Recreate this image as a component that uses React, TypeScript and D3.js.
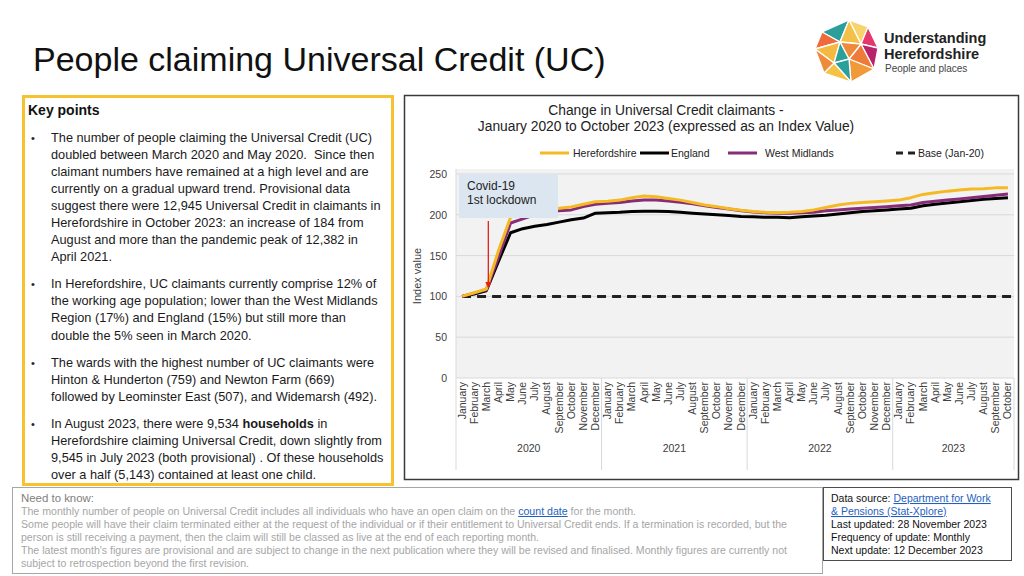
import React from 'react';
import * as d3 from 'd3';

// ---- data (index, Jan 2020 = 100) ----
const monthNames = [
  'January', 'February', 'March', 'April', 'May', 'June',
  'July', 'August', 'September', 'October', 'November', 'December',
];
const years = ['2020', '2021', '2022', '2023'];
const monthsInYear = [12, 12, 12, 10];

const herefordshire = [
  100, 104.5, 109, 156, 197, 203, 206, 207, 208, 209.5, 213, 216,
  216.5, 218, 221, 223, 222, 220, 218, 215, 212, 210, 207.5, 205.5,
  204, 203, 202.5, 203, 204, 206, 209, 212, 214, 215, 216, 217,
  218, 221, 225, 227, 229, 230.5, 231.5, 232, 233, 233,
];
const england = [
  100, 103, 107, 143, 178, 183, 186, 188, 191, 194, 196, 202,
  202.5, 203, 204, 204.5, 204.5, 204, 203, 202, 201, 200, 199, 198,
  197.5, 197, 197, 196.5, 197.5, 198.5, 199.5, 201, 202.5, 204, 205, 206,
  207, 208, 211, 213, 214.5, 216, 217.5, 219, 220, 221,
];
const westMidlands = [
  100, 104, 108, 148, 190, 195, 200, 203, 205, 206, 210, 213,
  214, 215, 217, 218, 218, 217, 215.5, 213.5, 211, 209, 207, 205,
  203.5, 202.5, 202, 202, 202.5, 203, 205, 206, 207, 208, 209, 210,
  211, 212, 215, 216.5, 218, 219.5, 221, 222.5, 224, 225.5,
];
const baseValue = 100;
const yTicks = [0, 50, 100, 150, 200, 250];

const seriesNames = ['Herefordshire', 'England', 'West Midlands', 'Base (Jan-20)'];
const seriesColors = ['#f5b923', '#000000', '#872d77', '#222222'];

const keyPoints = [
  [
    'The number of people claiming the Universal Credit (UC)',
    'doubled between March 2020 and May 2020.\u00a0 Since then',
    'claimant numbers have remained at a high level and are',
    'currently on a gradual upward trend. Provisional data',
    'suggest there were 12,945 Universal Credit in claimants in',
    'Herefordshire in October 2023: an increase of 184 from',
    'August and more than the pandemic peak of 12,382 in',
    'April 2021.',
  ],
  [
    'In Herefordshire, UC claimants currently comprise 12% of',
    'the working age population; lower than the West Midlands',
    'Region (17%) and England (15%) but still more than',
    'double the 5% seen in March 2020.',
  ],
  [
    'The wards with the highest number of UC claimants were',
    'Hinton & Hunderton (759) and Newton Farm (669)',
    'followed by Leominster East (507), and Widemarsh (492).',
  ],
  [
    'In August 2023, there were 9,534 **households** in',
    'Herefordshire claiming Universal Credit, down slightly from',
    '9,545 in July 2023 (both provisional) . Of these households',
    'over a half (5,143) contained at least one child.',
  ],
];

const FONT = "'Liberation Sans', Arial, Helvetica, sans-serif";

// layout
const plotLeft = 456;
const plotRight = 1014;
const plotTop = 174;
const plotBottom = 378;

const labels = years.flatMap((y, yi) => monthNames.slice(0, monthsInYear[yi]).map(m => `${m} ${y}`));

const x = d3.scaleBand<string>().domain(labels).range([plotLeft, plotRight]).paddingInner(0).paddingOuter(0);
const xc = (i: number) => (x(labels[i]) as number) + x.bandwidth() / 2;
const y = d3.scaleLinear().domain([0, 250]).range([plotBottom, plotTop]);

const renderBold = (s: string) => {
  const parts = s.split('**');
  return parts.map((p, i) => (
    <tspan key={i} fontWeight={i % 2 === 1 ? 'bold' : 'normal'}>{p}</tspan>
  ));
};

const Logo: React.FC = () => {
  const P: Record<string, [number, number]> = {
    A: [822, 32], B: [849, 20], C: [868, 27], D: [878, 48], E: [874, 69],
    F: [851, 82], G: [824, 73], H: [815, 49], I: [840, 42], J: [861, 44],
    K: [849, 59], L: [834, 63],
  };
  const tris: [string, string][] = [
    ['ABI', '#2a9f9c'], ['BCJ', '#f6d36b'], ['BJI', '#f3c04a'], ['CDJ', '#e6366c'],
    ['DEJ', '#b8246b'], ['JEK', '#ef7b3a'], ['IJK', '#ee8a3c'], ['AIH', '#ef6b3b'],
    ['HIL', '#f4b940'], ['IKL', '#2b9f98'], ['KEF', '#f09a3a'], ['KFL', '#2a9f9c'],
    ['LFG', '#f6c244'], ['HLG', '#f08a3b'],
  ];
  return (
    <g>
      {tris.map(([k, c], i) => (
        <polygon key={i} points={k.split('').map(p => P[p].join(',')).join(' ')} fill={c} stroke="#fff" strokeWidth={1.3} />
      ))}
      <text x={884} y={43} fontFamily={FONT} fontWeight="bold" fontSize={14.5} fill="#222">Understanding</text>
      <text x={884} y={59} fontFamily={FONT} fontWeight="bold" fontSize={14.5} fill="#222">Herefordshire</text>
      <text x={885} y={72} fontFamily={FONT} fontSize={10} fill="#444">People and places</text>
    </g>
  );
};

const App: React.FC = () => {
  const path = d3.line<number>().x((_, i) => xc(i)).y(d => y(d));
  const series = [herefordshire, england, westMidlands];
  const drawOrder = [1, 2, 0];

  const yearStarts = monthsInYear.reduce<number[]>((acc, n, i) => {
    acc.push(i === 0 ? 0 : acc[i - 1] + monthsInYear[i - 1]);
    return acc;
  }, []);

  const legendX = [540, 640, 728, 896];
  const legendTextX = [573, 671, 765, 918];

  let lineY = 141.5;
  const bulletLines: { text: string; y: number; first: boolean }[] = [];
  keyPoints.forEach(b => {
    b.forEach((t, ti) => {
      if (ti > 0) lineY += 17.1;
      bulletLines.push({ text: t, y: lineY, first: ti === 0 });
    });
    lineY += 27;
  });

  const footLines = [
    'Some people will have their claim terminated either at the request of the individual or if their entitlement to Universal Credit ends. If a termination is recorded, but the',
    'person is still receiving a payment, then the claim will still be classed as live at the end of each reporting month.',
    "The latest month's figures are provisional and are subject to change in the next publication where they will be revised and finalised. Monthly figures are currently not",
    'subject to retrospection beyond the first revision.',
  ];
  const footWidths = [766, 518, 766, 228];

  const arrowX = xc(2) + 2;

  return (
    <div style={{ position: 'fixed', left: 0, top: 0, width: 1024, height: 576, background: '#fff' }}>
      <svg width={1024} height={576} style={{ display: 'block' }}>
        <defs>
          <marker id="arrowHead" viewBox="0 0 10 10" refX={9} refY={5} markerWidth={5} markerHeight={5} orient="auto">
            <path d="M0,0 L10,5 L0,10 z" fill="#e3201b" />
          </marker>
        </defs>

        {/* page title */}
        <text x={33} y={71} fontFamily={FONT} fontSize={34} fill="#111">People claiming Universal Credit (UC)</text>
        <Logo />

        {/* key points */}
        <rect x={23.5} y={96.5} width={369} height={388} fill="#fff" stroke="#f6c22d" strokeWidth={3} />
        <text x={28} y={115} fontFamily={FONT} fontSize={14} fontWeight="bold" fill="#111">Key points</text>
        {bulletLines.map((l, i) => (
          <g key={i}>
            {l.first && <text x={31} y={l.y} fontFamily={FONT} fontSize={11} fill="#222">•</text>}
            <text x={51} y={l.y} fontFamily={FONT} fontSize={12.75} fill="#1a1a1a">{renderBold(l.text)}</text>
          </g>
        ))}

        {/* chart panel */}
        <rect x={404.5} y={95.5} width={614} height={384} fill="#fff" stroke="#3a3a3a" strokeWidth={1.5} />
        <text x={666} y={115} textAnchor="middle" fontFamily={FONT} fontSize={13.8} fill="#222">Change in Universal Credit claimants -</text>
        <text x={666} y={131} textAnchor="middle" fontFamily={FONT} fontSize={13.8} fill="#222">January 2020 to October 2023 (expressed as an Index Value)</text>

        {/* legend */}
        {seriesNames.map((n, i) => (
          <g key={n}>
            {i < 3 ? (
              <line x1={legendX[i]} x2={legendX[i] + 29} y1={153} y2={153} stroke={seriesColors[i]} strokeWidth={3} />
            ) : (
              <line x1={legendX[i]} x2={legendX[i] + 20} y1={153} y2={153} stroke={seriesColors[i]} strokeWidth={3} strokeDasharray="7,5" />
            )}
            <text x={legendTextX[i]} y={157} fontFamily={FONT} fontSize={10.5} fill="#222">{n}</text>
          </g>
        ))}

        {/* plot */}
        <rect x={plotLeft} y={plotTop - 5} width={plotRight - plotLeft} height={plotBottom - plotTop + 5} fill="#f2f2f2" />
        {yTicks.map(t => (
          <g key={t}>
            {t > 0 && <line x1={plotLeft} x2={plotRight} y1={y(t)} y2={y(t)} stroke="#d9d9d9" strokeWidth={1} />}
            <text x={447} y={y(t) + 4} textAnchor="end" fontFamily={FONT} fontSize={10.5} fill="#404040">{t}</text>
          </g>
        ))}
        <line x1={plotLeft} x2={plotRight} y1={plotBottom} y2={plotBottom} stroke="#d9d9d9" />
        <line x1={plotLeft} x2={plotLeft} y1={plotTop - 5} y2={plotBottom} stroke="#d9d9d9" />
        <text transform={`translate(421,${(plotTop + plotBottom) / 2}) rotate(-90)`} textAnchor="middle" fontFamily={FONT} fontSize={11} fill="#404040">Index value</text>

        {/* base line */}
        <line x1={xc(0)} x2={xc(labels.length - 1) + 4} y1={y(baseValue)} y2={y(baseValue)} stroke={seriesColors[3]} strokeWidth={3} strokeDasharray="9,6" />

        {drawOrder.map(si => (
          <path key={si} d={path(series[si]) || ''} fill="none" stroke={seriesColors[si]} strokeWidth={3} strokeLinejoin="round" />
        ))}

        {/* annotation */}
        <rect x={459} y={plotTop} width={99} height={44} fill="#dce6f1" />
        <text x={467} y={190} fontFamily={FONT} fontSize={12} fill="#222">Covid-19</text>
        <text x={467} y={204} fontFamily={FONT} fontSize={12} fill="#222">1st lockdown</text>
        <line x1={arrowX} x2={arrowX} y1={221} y2={y(111)} stroke="#e3201b" strokeWidth={1.3} markerEnd="url(#arrowHead)" />

        {/* category axis */}
        {labels.map((l, i) => (
          <text key={l} transform={`translate(${xc(i) + 3.5},382) rotate(-90)`} textAnchor="end" fontFamily={FONT} fontSize={10.5} fill="#404040">
            {monthNames[i % 12]}
          </text>
        ))}
        {[...yearStarts, labels.length].map((s, i) => {
          const xx = s < labels.length ? (x(labels[s]) as number) : plotRight;
          return <line key={i} x1={xx} x2={xx} y1={plotBottom} y2={470} stroke="#d9d9d9" />;
        })}
        {years.map((yr, i) => {
          const a = x(labels[yearStarts[i]]) as number;
          const b = a + monthsInYear[i] * x.bandwidth();
          return (
            <text key={yr} x={(a + b) / 2} y={452} textAnchor="middle" fontFamily={FONT} fontSize={10.5} fill="#404040">{yr}</text>
          );
        })}

        {/* need to know */}
        <rect x={12.5} y={487.5} width={810} height={86} fill="#fff" stroke="#a6a6a6" />
        <text x={21} y={502} fontFamily={FONT} fontSize={10} fill="#808080" textLength={73} lengthAdjust="spacingAndGlyphs">Need to know:</text>
        <text x={21} y={515} fontFamily={FONT} fontSize={10} fill="#a6a6a6" textLength={615} lengthAdjust="spacingAndGlyphs">
          The monthly number of people on Universal Credit includes all individuals who have an open claim on the{' '}
          <tspan fill="#1f5fbf" textDecoration="underline">count date</tspan> for the month.
        </text>
        {footLines.map((t, i) => (
          <text key={i} x={21} y={528 + i * 13} fontFamily={FONT} fontSize={10} fill="#a6a6a6" textLength={footWidths[i]} lengthAdjust="spacingAndGlyphs">{t}</text>
        ))}

        {/* data source */}
        <rect x={823.5} y={487.5} width={188} height={73} fill="#fff" stroke="#4d4d4d" />
        <text x={831} y={502} fontFamily={FONT} fontSize={10.5} fill="#111">
          Data source: <tspan fill="#1f5fbf" textDecoration="underline">Department for Work</tspan>
        </text>
        <text x={831} y={515} fontFamily={FONT} fontSize={10.5} fill="#1f5fbf" textDecoration="underline">&amp; Pensions (Stat-Xplore)</text>
        <text x={831} y={528} fontFamily={FONT} fontSize={10.5} fill="#111">Last updated: 28 November 2023</text>
        <text x={831} y={541} fontFamily={FONT} fontSize={10.5} fill="#111">Frequency of update: Monthly</text>
        <text x={831} y={554} fontFamily={FONT} fontSize={10.5} fill="#111">Next update: 12 December 2023</text>
      </svg>
    </div>
  );
};

export default App;
